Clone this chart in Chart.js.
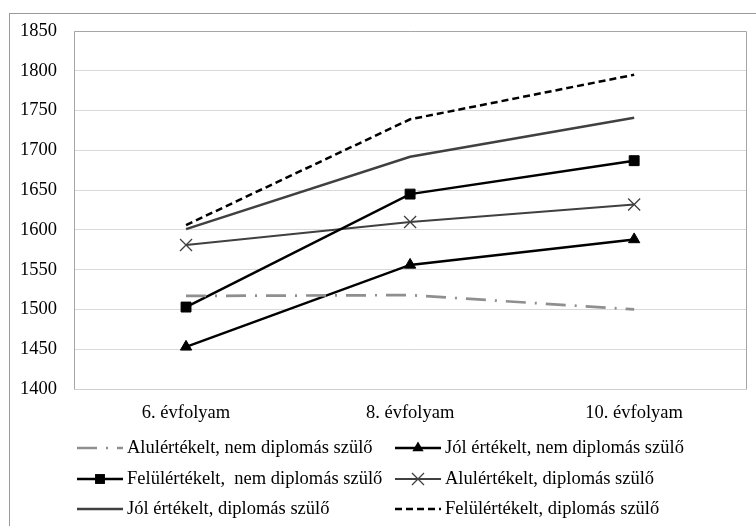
<!DOCTYPE html>
<html>
<head>
<meta charset="utf-8">
<script src="https://cdn.jsdelivr.net/npm/chart.js@4"></script>
<style>
  body { margin: 0; background: #fff; }
  #wrap { width: 756px; height: 526px; }
</style>
</head>
<body>
<div id="wrap"><canvas id="myChart"></canvas></div>
<script>
// Évfolyamok (kategóriák)
const grades = ['6. évfolyam', '8. évfolyam', '10. évfolyam'];

// Sorozatok értékei
const aluNem = [1517, 1518, 1500];
const jolNem = [1453, 1556, 1588];
const felulNem = [1503, 1645, 1687];
const aluDipl = [1581, 1610, 1632];
const jolDipl = [1601, 1692, 1741];
const felulDipl = [1606, 1739, 1795];

const yTicks = [1400, 1450, 1500, 1550, 1600, 1650, 1700, 1750, 1800, 1850];

const FONT = "'Liberation Serif', 'Times New Roman', serif";
const FSIZE = 18.5;

// Keret a diagram és a rajzterület köré
const framePlugin = {
    id: 'frame',
    beforeDraw(chart) {
        const ctx = chart.ctx;
        ctx.save();
        ctx.fillStyle = '#fff';
        ctx.fillRect(0, 0, chart.width, chart.height);
        ctx.strokeStyle = '#9a9a9a';
        ctx.lineWidth = 1;
        ctx.strokeRect(9.5, 13.5, chart.width + 20, chart.height + 20);
        ctx.restore();
    },
    afterDatasetsDraw(chart) {
        const a = chart.chartArea;
        const ctx = chart.ctx;
        ctx.save();
        ctx.lineWidth = 1;
        ctx.strokeStyle = '#a6a6a6';
        ctx.beginPath();
        ctx.moveTo(Math.round(a.left) + 0.5, Math.round(a.bottom) + 0.5);
        ctx.lineTo(Math.round(a.left) + 0.5, Math.round(a.top) + 0.5);
        ctx.lineTo(Math.round(a.right) + 0.5, Math.round(a.top) + 0.5);
        ctx.lineTo(Math.round(a.right) + 0.5, Math.round(a.bottom) + 0.5);
        ctx.stroke();
        ctx.strokeStyle = '#cfcfcf';
        ctx.beginPath();
        ctx.moveTo(Math.round(a.left) + 0.5, Math.round(a.bottom) + 0.5);
        ctx.lineTo(Math.round(a.right) + 0.5, Math.round(a.bottom) + 0.5);
        ctx.stroke();
        ctx.restore();
    }
};

// Jelölők rajzolása a jelmagyarázathoz
function drawMarker(ctx, style, r, x, y, color, lw) {
    ctx.save();
    ctx.fillStyle = color;
    ctx.strokeStyle = color;
    ctx.lineWidth = lw;
    ctx.setLineDash([]);
    ctx.beginPath();
    if (style === 'rect') {
        const s = Math.SQRT1_2 * r;
        ctx.fillRect(x - s, y - s, 2 * s, 2 * s);
    } else if (style === 'triangle') {
        ctx.moveTo(x, y - r);
        ctx.lineTo(x - Math.sin(Math.PI / 3) * r, y + r / 2);
        ctx.lineTo(x + Math.sin(Math.PI / 3) * r, y + r / 2);
        ctx.closePath();
        ctx.fill();
    } else if (style === 'crossRot') {
        const o = Math.SQRT1_2 * r;
        ctx.moveTo(x - o, y - o); ctx.lineTo(x + o, y + o);
        ctx.moveTo(x - o, y + o); ctx.lineTo(x + o, y - o);
        ctx.stroke();
    }
    ctx.restore();
}

// Saját jelmagyarázat két oszlopban, három sorban
const legendPlugin = {
    id: 'gridLegend',
    afterDraw(chart) {
        const ctx = chart.ctx;
        const cols = [77, 395];
        const rows = [448, 479, 509];
        const symW = 46;
        ctx.save();
        chart.data.datasets.forEach((ds, i) => {
            const x = cols[i % 2];
            const y = rows[Math.floor(i / 2)];
            ctx.save();
            ctx.strokeStyle = ds.borderColor;
            ctx.lineWidth = ds.borderWidth;
            ctx.setLineDash(ds.borderDash || []);
            ctx.beginPath();
            ctx.moveTo(x, y);
            ctx.lineTo(x + symW, y);
            ctx.stroke();
            ctx.restore();
            if (ds.pointRadius > 0) {
                drawMarker(ctx, ds.pointStyle, ds.pointRadius, x + symW / 2, y, ds.pointBackgroundColor, ds.pointBorderWidth);
            }
            ctx.fillStyle = '#000';
            ctx.font = FSIZE + 'px ' + FONT;
            ctx.textBaseline = 'middle';
            ctx.textAlign = 'left';
            ctx.fillText(ds.label, x + symW + 4, y);
        });
        ctx.restore();
    }
};

const chartData = {
    labels: grades,
    datasets: [{
        label: 'Alulértékelt, nem diplomás szülő',
        data: aluNem,
        borderColor: '#8f8f8f',
        borderWidth: 2.7,
        borderDash: [20, 9, 2, 9],
        pointRadius: 0,
        pointStyle: 'circle'
    }, {
        label: 'Jól értékelt, nem diplomás szülő',
        data: jolNem,
        borderColor: '#000',
        borderWidth: 2.5,
        pointStyle: 'triangle',
        pointRadius: 6.5,
        pointBackgroundColor: '#000',
        pointBorderColor: '#000',
        pointBorderWidth: 1
    }, {
        label: 'Felülértékelt,  nem diplomás szülő',
        data: felulNem,
        borderColor: '#000',
        borderWidth: 2.5,
        pointStyle: 'rect',
        pointRadius: 7,
        pointBackgroundColor: '#000',
        pointBorderColor: '#000',
        pointBorderWidth: 1
    }, {
        label: 'Alulértékelt, diplomás szülő',
        data: aluDipl,
        borderColor: '#404040',
        borderWidth: 2,
        pointStyle: 'crossRot',
        pointRadius: 8.5,
        pointBackgroundColor: '#404040',
        pointBorderColor: '#404040',
        pointBorderWidth: 1.3
    }, {
        label: 'Jól értékelt, diplomás szülő',
        data: jolDipl,
        borderColor: '#404040',
        borderWidth: 2.5,
        pointRadius: 0,
        pointStyle: 'circle'
    }, {
        label: 'Felülértékelt, diplomás szülő',
        data: felulDipl,
        borderColor: '#000',
        borderWidth: 2.5,
        borderDash: [7, 4],
        pointRadius: 0,
        pointStyle: 'circle'
    }]
};

const options = {
    responsive: true,
    maintainAspectRatio: false,
    animation: false,
    devicePixelRatio: 1,
    layout: { padding: { top: 31, right: 5, left: 0, bottom: 0 } },
    elements: { line: { tension: 0, fill: false } },
    plugins: {
        legend: { display: false },
        tooltip: { enabled: false }
    },
    scales: {
        x: {
            offset: true,
            grid: { display: false, drawTicks: false },
            border: { display: false },
            ticks: { color: '#000', font: { family: FONT, size: FSIZE }, padding: 13, maxRotation: 0 },
            afterFit(scale) { scale.height = 137; }
        },
        y: {
            min: 1400,
            max: 1850,
            afterBuildTicks(scale) { scale.ticks = yTicks.map(v => ({ value: v })); },
            grid: { color: '#d9d9d9', lineWidth: 1, drawTicks: false },
            border: { display: false },
            ticks: {
                color: '#000',
                font: { family: FONT, size: FSIZE },
                padding: 17,
                callback: value => String(value)
            },
            afterFit(scale) { scale.width = 74; }
        }
    }
};

const ctx = document.getElementById('myChart').getContext('2d');
new Chart(ctx, {
    type: 'line',
    data: chartData,
    options: options,
    plugins: [framePlugin, legendPlugin]
});
</script>
</body>
</html>
